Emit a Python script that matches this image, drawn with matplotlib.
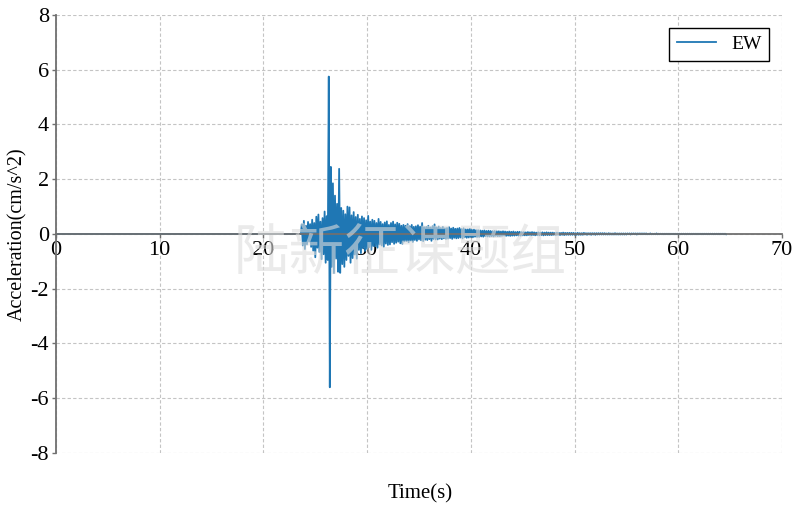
import numpy as np
import matplotlib
matplotlib.use("Agg")
import matplotlib.pyplot as plt

# quiet part of the record before the event arrives
quiet_time = [0.0, 23.6]
quiet_acc = [0.0, 0.0]

# strong motion, sampled every 0.1 s starting at 23.7 s (one row = 1 s)
t_start = 23.7
dt = 0.1
acc = [
    0.35, -0.42, 0.48, -0.55, 0.30, -0.38, 0.44, -0.28, 0.36, -0.47,
    0.52, -0.61, 0.40, -0.85, 0.63, -0.50, 0.71, -0.66, 0.45, -0.92,
    0.58, -0.74, 0.82, -1.05, 0.65, -0.95, 5.75, -5.60, 2.45, -1.20,
    1.85, -1.43, 1.40, -0.90, 1.10, -1.38, 2.38, -1.42, 0.95, -1.10,
    0.85, -1.20, 0.72, -0.95, 1.00, -0.80, 0.97, -1.05, 0.68, -0.88,
    0.80, -0.75, 0.62, -0.90, 0.70, -0.58, 0.55, -0.70, 0.64, -0.52,
    0.58, -0.62, 0.50, -0.55, 0.66, -0.48, 0.45, -0.58, 0.52, -0.44,
    0.48, -0.45, 0.40, -0.50, 0.55, -0.38, 0.44, -0.42, 0.36, -0.47,
    0.42, -0.35, 0.46, -0.40, 0.33, -0.38, 0.40, -0.30, 0.45, -0.36,
    0.35, -0.32, 0.41, -0.28, 0.37, -0.34, 0.30, -0.36, 0.33, -0.27,
    0.30, -0.26, 0.36, -0.30, 0.28, -0.24, 0.33, -0.29, 0.26, -0.22,
    0.28, -0.25, 0.32, -0.20, 0.27, -0.23, 0.40, -0.26, 0.25, -0.21,
    0.26, -0.22, 0.30, -0.19, 0.24, -0.25, 0.28, -0.18, 0.35, -0.20,
    0.24, -0.20, 0.27, -0.17, 0.22, -0.19, 0.26, -0.16, 0.21, -0.18,
    0.22, -0.17, 0.25, -0.15, 0.20, -0.18, 0.23, -0.14, 0.19, -0.16,
    0.20, -0.15, 0.22, -0.13, 0.18, -0.16, 0.21, -0.12, 0.17, -0.14,
    0.17, -0.13, 0.19, -0.11, 0.15, -0.12, 0.16, -0.10, 0.14, -0.11,
    0.14, -0.11, 0.13, -0.09, 0.12, -0.10, 0.13, -0.08, 0.11, -0.09,
    0.12, -0.09, 0.11, -0.08, 0.10, -0.09, 0.11, -0.07, 0.10, -0.08,
    0.10, -0.08, 0.09, -0.07, 0.10, -0.06, 0.09, -0.07, 0.08, -0.06,
    0.09, -0.07, 0.08, -0.06, 0.09, -0.06, 0.07, -0.05, 0.08, -0.06,
    0.08, -0.06, 0.07, -0.05, 0.07, -0.05, 0.06, -0.05, 0.07, -0.04,
    0.06, -0.05, 0.07, -0.04, 0.06, -0.05, 0.05, -0.04, 0.06, -0.05,
    0.05, -0.04, 0.06, -0.05, 0.05, -0.04, 0.06, -0.04, 0.05, -0.04,
    0.05, -0.04, 0.05, -0.03, 0.04, -0.04, 0.05, -0.03, 0.04, -0.04,
    0.04, -0.03, 0.05, -0.04, 0.04, -0.03, 0.04, -0.03, 0.04, -0.03,
    0.04, -0.03, 0.04, -0.03, 0.03, -0.03, 0.04, -0.03, 0.03, -0.03,
    0.03, -0.03, 0.04, -0.02, 0.03, -0.03, 0.03, -0.02, 0.03, -0.03,
    0.03, -0.02, 0.03, -0.03, 0.03, -0.02, 0.03, -0.02, 0.03, -0.02,
    0.03, -0.02, 0.03, -0.02, 0.02, -0.02, 0.03, -0.02, 0.02, -0.02,
    0.02, -0.02, 0.03, -0.02, 0.02, -0.02, 0.02, -0.02, 0.02, -0.02,
    0.02, -0.02, 0.02, -0.02, 0.02, -0.01, 0.02, -0.02, 0.02, -0.01,
    0.02, -0.01, 0.02, -0.02, 0.02, -0.01, 0.02, -0.01, 0.02, -0.01,
    0.02, -0.01, 0.02, -0.01, 0.01, -0.01, 0.02, -0.01, 0.01, -0.01,
    0.01, -0.01, 0.02, -0.01, 0.01, -0.01, 0.01, -0.01, 0.01, -0.01,
    0.01, -0.01, 0.01, -0.01, 0.01, -0.01, 0.01, -0.01, 0.01, -0.01,
    0.01, -0.01, 0.01, -0.01, 0.01, -0.01, 0.01, -0.01, 0.01, -0.01,
    0.01, -0.01, 0.01, -0.01, 0.01, -0.01, 0.01, -0.01, 0.01, -0.01,
    0.01, -0.01, 0.01, -0.01, 0.01, -0.01, 0.01, -0.01, 0.01, -0.01,
    0.01, -0.01, 0.01, -0.01, 0.01, -0.01, 0.01, -0.01, 0.01, -0.01,
    0.01, -0.01, 0.01, -0.01, 0.01, -0.01, 0.01, -0.01, 0.01, -0.01,
]

x_ticks = [0, 10, 20, 30, 40, 50, 60, 70]
y_ticks = [-8, -6, -4, -2, 0, 2, 4, 6, 8]

time = np.concatenate([quiet_time, t_start + dt * np.arange(len(acc))])
values = np.concatenate([quiet_acc, acc])

plt.rcParams["font.family"] = ["Liberation Serif", "DejaVu Serif"]
plt.rcParams["font.size"] = 16
plt.rcParams["axes.unicode_minus"] = False

fig = plt.figure(figsize=(8, 5.13), dpi=100)
ax = fig.add_axes([0.07, 0.117, 0.9075, 0.8538])

ax.plot(time, values, color="#1f77b4", lw=1.3, label="EW")

ax.set_xlim(0, 70)
ax.set_ylim(-8, 8)
ax.set_xticks(x_ticks)
ax.set_yticks(y_ticks)
ax.grid(True, ls=(0, (3, 2)), color="#c4c4c4", lw=0.8)
ax.set_axisbelow(True)

for side in ["top", "right"]:
    ax.spines[side].set_visible(False)
ax.spines["left"].set_position(("data", 0))
ax.spines["bottom"].set_position(("data", 0))
for side in ["left", "bottom"]:
    ax.spines[side].set_color("#707070")
    ax.spines[side].set_linewidth(1.3)
ax.tick_params(length=3, width=1, color="#707070", pad=2)

ax.set_ylabel("Acceleration(cm/s^2)", fontsize=14.5, labelpad=2)
fig.text(0.525, 0.038, "Time(s)", ha="center", va="center", fontsize=15)

leg = ax.legend(loc="upper right", fancybox=False, edgecolor="black",
                framealpha=1, handlelength=2.0, borderaxespad=0.65, fontsize=14)
leg.get_frame().set_linewidth(1.0)

# watermark
fig.text(0.5, 0.505, "陆新征课题组", ha="center", va="center", fontsize=40,
         color="#dcdcdc", alpha=0.6, family=["Noto Sans CJK SC", "DejaVu Sans"],
         zorder=10)

fig.savefig("out.png", dpi=100)
